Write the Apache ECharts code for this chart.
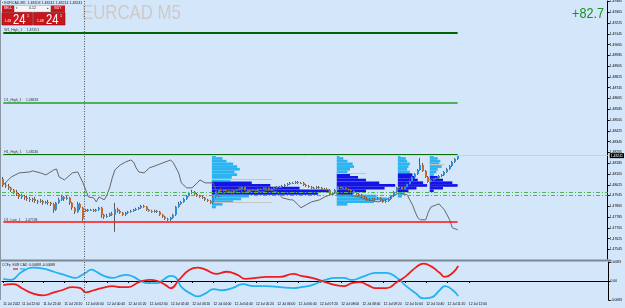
<!DOCTYPE html>
<html><head><meta charset="utf-8">
<script src="https://cdn.jsdelivr.net/npm/echarts@6/dist/echarts.min.js"></script>
<style>html,body{margin:0;padding:0;background:#d4e6fa;overflow:hidden}#c{width:625px;height:308px}</style>
</head><body><div id="c"></div>
<script>
// ---------- DATA ----------
const slotCount = 228;            // bar slots on the time axis (incl. right shift)
const separatorSlot = 31;         // first bar of 12 Jul
const timeLabels = ["11 Jul 2022","11 Jul 22:00","11 Jul 22:40","11 Jul 23:20","12 Jul 00:00","12 Jul 00:40","12 Jul 01:20","12 Jul 02:00","12 Jul 02:40","12 Jul 03:20","12 Jul 04:00","12 Jul 04:40","12 Jul 05:20","12 Jul 06:00","12 Jul 06:40","12 Jul 07:20","12 Jul 08:00","12 Jul 08:40","12 Jul 09:20","12 Jul 10:00","12 Jul 10:40","12 Jul 11:20","12 Jul 12:00"];
const labelSlots = [0,7,15,23,31,39,47,55,63,71,79,87,95,103,111,119,127,135,143,151,159,167,175];
const priceTicks = [1.47545,1.47625,1.47705,1.47785,1.47865,1.47945,1.48025,1.48105,1.48185,1.48265,1.48345,1.48425,1.48505,1.48585,1.48665,1.48745,1.48825,1.48905,1.48985,1.49065,1.49145,1.49225,1.49305,1.49385];
const indTicks = [0.0083,0,-0.0083];

const opens = [1.48068,1.48024,1.48016,1.48002,1.47987,1.47972,1.47957,1.47935,1.47942,1.47928,
1.47920,1.47913,1.47920,1.47905,1.47898,1.47905,1.47891,1.47898,1.47891,1.47883,
1.47839,1.47891,1.47913,1.47935,1.47920,1.47928,1.47891,1.47854,1.47824,1.47883,
1.47854,1.47839,1.47831,1.47839,1.47839,1.47831,1.47839,1.47854,1.47802,1.47787,
1.47794,1.47809,1.47802,1.47846,1.47831,1.47817,1.47802,1.47817,1.47824,1.47831,
1.47839,1.47846,1.47854,1.47868,1.47861,1.47839,1.47831,1.47824,1.47831,1.47824,
1.47802,1.47787,1.47772,1.47765,1.47780,1.47802,1.47861,1.47883,1.47898,1.47920,
1.47942,1.47965,1.47972,1.47957,1.47942,1.47935,1.47928,1.47913,1.47905,1.47891,
1.47935,1.47965,1.47987,1.47979,1.47987,1.47979,1.47972,1.47965,1.47979,1.47987,
1.47994,1.48009,1.47987,1.47972,1.47987,1.47987,1.47979,1.47994,1.47994,1.48002,
1.48002,1.47987,1.47994,1.48002,1.48009,1.48009,1.48016,1.48024,1.48031,1.48039,
1.48039,1.48046,1.48039,1.48039,1.48024,1.48016,1.48009,1.48002,1.48002,1.48009,
1.48002,1.47994,1.47994,1.47987,1.47950,1.47965,1.47987,1.48009,1.48002,1.48002,
1.47994,1.47987,1.47979,1.47965,1.47957,1.47950,1.47935,1.47928,1.47913,1.47920,
1.47913,1.47920,1.47928,1.47913,1.47898,1.47905,1.47920,1.47942,1.47972,1.48002,
1.48009,1.47994,1.48009,1.48031,1.48053,1.48083,1.48105,1.48135,1.48172,1.48128,
1.48083,1.48046,1.48061,1.48068,1.48076,1.48090,1.48098,1.48120,1.48142,1.48164,
1.48194,1.48216];
const closes = [1.48024,1.48016,1.48002,1.47987,1.47972,1.47957,1.47935,1.47942,1.47928,1.47920,
1.47913,1.47920,1.47905,1.47898,1.47905,1.47891,1.47898,1.47891,1.47883,1.47839,
1.47891,1.47913,1.47935,1.47920,1.47928,1.47891,1.47854,1.47824,1.47883,1.47854,
1.47772,1.47831,1.47839,1.47839,1.47831,1.47839,1.47854,1.47802,1.47787,1.47794,
1.47809,1.47802,1.47846,1.47831,1.47817,1.47802,1.47817,1.47824,1.47831,1.47839,
1.47846,1.47854,1.47868,1.47861,1.47839,1.47831,1.47824,1.47831,1.47824,1.47802,
1.47787,1.47772,1.47765,1.47780,1.47802,1.47861,1.47883,1.47898,1.47920,1.47942,
1.47965,1.47972,1.47957,1.47942,1.47935,1.47928,1.47913,1.47905,1.47891,1.47935,
1.47965,1.47987,1.47979,1.47987,1.47979,1.47972,1.47965,1.47979,1.47987,1.47994,
1.48009,1.47987,1.47972,1.47987,1.47987,1.47979,1.47994,1.47994,1.48002,1.48002,
1.47987,1.47994,1.48002,1.48009,1.48009,1.48016,1.48024,1.48031,1.48039,1.48039,
1.48046,1.48039,1.48039,1.48024,1.48016,1.48009,1.48002,1.48002,1.48009,1.48002,
1.47994,1.47994,1.47987,1.47950,1.47965,1.47987,1.48009,1.48002,1.48002,1.47994,
1.47987,1.47979,1.47965,1.47957,1.47950,1.47935,1.47928,1.47913,1.47920,1.47913,
1.47920,1.47928,1.47913,1.47898,1.47905,1.47920,1.47942,1.47972,1.48002,1.48009,
1.47994,1.48009,1.48031,1.48053,1.48083,1.48105,1.48135,1.48172,1.48128,1.48083,
1.48046,1.48061,1.48068,1.48076,1.48090,1.48098,1.48120,1.48142,1.48164,1.48194,
1.48216,1.48241];
const highs = [1.48083,1.48039,1.48031,1.48009,1.47994,1.47987,1.47965,1.47957,1.47950,1.47942,
1.47935,1.47928,1.47935,1.47913,1.47920,1.47913,1.47905,1.47913,1.47898,1.47891,
1.47898,1.47928,1.47950,1.47942,1.47942,1.47935,1.47898,1.47861,1.47898,1.47891,
1.47861,1.47846,1.47846,1.47846,1.47846,1.47846,1.47861,1.47861,1.47809,1.47809,
1.47817,1.47824,1.47891,1.47854,1.47839,1.47824,1.47824,1.47831,1.47839,1.47846,
1.47854,1.47861,1.47876,1.47876,1.47868,1.47846,1.47839,1.47839,1.47839,1.47831,
1.47809,1.47794,1.47780,1.47787,1.47809,1.47868,1.47898,1.47905,1.47928,1.47950,
1.47972,1.47987,1.47979,1.47965,1.47950,1.47942,1.47935,1.47920,1.47913,1.47942,
1.47979,1.47994,1.48002,1.47994,1.47994,1.47987,1.47979,1.47987,1.47994,1.48002,
1.48016,1.48016,1.47994,1.47994,1.47994,1.47994,1.48002,1.48002,1.48009,1.48009,
1.48009,1.48002,1.48009,1.48016,1.48016,1.48024,1.48031,1.48039,1.48046,1.48046,
1.48053,1.48053,1.48046,1.48046,1.48031,1.48024,1.48016,1.48009,1.48016,1.48016,
1.48009,1.48002,1.48002,1.47994,1.47972,1.47994,1.48016,1.48016,1.48009,1.48009,
1.48002,1.47994,1.47987,1.47972,1.47965,1.47957,1.47942,1.47935,1.47928,1.47928,
1.47928,1.47935,1.47935,1.47920,1.47913,1.47928,1.47950,1.47979,1.48009,1.48016,
1.48016,1.48016,1.48039,1.48061,1.48090,1.48113,1.48142,1.48224,1.48187,1.48135,
1.48090,1.48068,1.48076,1.48083,1.48098,1.48105,1.48128,1.48150,1.48172,1.48202,
1.48224,1.48246];
const lows = [1.48009,1.48002,1.47987,1.47972,1.47957,1.47942,1.47920,1.47920,1.47913,1.47905,
1.47898,1.47898,1.47891,1.47883,1.47891,1.47876,1.47883,1.47876,1.47868,1.47817,
1.47831,1.47883,1.47905,1.47905,1.47913,1.47876,1.47839,1.47809,1.47817,1.47839,
1.47757,1.47824,1.47824,1.47831,1.47824,1.47824,1.47831,1.47780,1.47772,1.47780,
1.47787,1.47794,1.47676,1.47817,1.47809,1.47794,1.47794,1.47809,1.47817,1.47824,
1.47831,1.47839,1.47846,1.47854,1.47831,1.47824,1.47817,1.47817,1.47817,1.47794,
1.47780,1.47765,1.47757,1.47757,1.47772,1.47794,1.47854,1.47876,1.47891,1.47913,
1.47935,1.47957,1.47950,1.47935,1.47928,1.47920,1.47905,1.47898,1.47883,1.47883,
1.47928,1.47957,1.47972,1.47972,1.47972,1.47965,1.47957,1.47957,1.47972,1.47979,
1.47987,1.47979,1.47965,1.47965,1.47979,1.47972,1.47972,1.47987,1.47987,1.47994,
1.47979,1.47979,1.47987,1.47994,1.48002,1.48002,1.48009,1.48016,1.48024,1.48031,
1.48031,1.48031,1.48031,1.48016,1.48009,1.48002,1.47994,1.47994,1.47994,1.47994,
1.47987,1.47987,1.47979,1.47942,1.47942,1.47957,1.47979,1.47994,1.47994,1.47987,
1.47979,1.47972,1.47957,1.47950,1.47942,1.47928,1.47920,1.47905,1.47905,1.47905,
1.47905,1.47913,1.47905,1.47891,1.47891,1.47898,1.47913,1.47935,1.47965,1.47994,
1.47987,1.47987,1.48002,1.48024,1.48046,1.48076,1.48098,1.48128,1.48120,1.48076,
1.48039,1.48039,1.48053,1.48061,1.48068,1.48083,1.48090,1.48113,1.48135,1.48157,
1.48187,1.48209];

// grey overlay line on the price chart: [bar, price]
const grayLine = [[0,1.48024],[3,1.48083],[6,1.48113],[10,1.48120],[11,1.48128],[14,1.48113],[16,1.48098],[19,1.48135],[20,1.48142],[21,1.48083],[23,1.48061],[26,1.48113],[28,1.48120],[30,1.48039],[31,1.47987],[32,1.47935],[34,1.47928],[35,1.47898],[36,1.47935],[38,1.47913],[39,1.47950],[40,1.48002],[41,1.48076],[42,1.48135],[44,1.48172],[46,1.48194],[48,1.48209],[49,1.48194],[50,1.48150],[51,1.48120],[53,1.48113],[55,1.48150],[58,1.48172],[60,1.48187],[63,1.48209],[64,1.48187],[66,1.48113],[67,1.48039],[69,1.48002],[71,1.48002],[73,1.48039],[74,1.48061],[76,1.48039],[79,1.48039],[81,1.47935],[84,1.47972],[88,1.47987],[89,1.48009],[90,1.47965],[94,1.47987],[97,1.47972],[100,1.47987],[103,1.47972],[105,1.47928],[108,1.47913],[109,1.47913],[111,1.47876],[112,1.47854],[114,1.47876],[116,1.47898],[119,1.47913],[121,1.47935],[123,1.47950],[125,1.47965],[127,1.47950],[130,1.47950],[134,1.47935],[137,1.47913],[141,1.47898],[144,1.47913],[146,1.47935],[149,1.47965],[152,1.47950],[154,1.47876],[155,1.47824],[156,1.47780],[157,1.47765],[159,1.47765],[160,1.47824],[161,1.47861],[163,1.47876],[164,1.47883],[165,1.47861],[166,1.47839],[168,1.47765],[169,1.47706],[171,1.47691]];

// horizontal levels
const levelNames = ["W1_High_1","D1_High_1","H1_High_1","D1_Low_1"];
const levelValues = [1.49151,1.48633,1.48246,1.47748];
const midLevels = [1.47969,1.47947];
const bidPrice = 1.48241;

// volume profiles (shared price rows, lengths in bars)
const profileLevels = [1.48240,1.48220,1.48200,1.48180,1.48160,1.48140,1.48120,1.48100,1.48080,1.48060,1.48040,1.48020,1.48000,1.47980,1.47960,1.47940,1.47920,1.47900,1.47880,1.47860];
const profileStarts = [79,126,149,161];
const profile1 = [1.5,4,5.5,8,9.5,10.5,8.5,9.5,7.5,7,15,22,33,44,40,14,11,8,4,1.5];
const profile2 = [1,2.5,4,6,6.5,5,4,5,8,11,16,22,18,11,6,15,19,14,4,0];
const profile3 = [1,3,3.5,4.5,4,3.5,4.5,5.5,6.5,7.5,9.5,11,7,4,2.5,1.5,0,0,0,0];
const profile4 = [1.5,3,4,3.5,4.5,3,2.5,1.5,3,5,8.5,10.5,5,1.5,0,0,0,0,0,0];
const profileVA = [[10,14],[7,14],[7,13],[8,13]];
const vaLineStart = [79,79,126,161];
const vaLinePrice = [1.48068,1.47898,1.48113,1.48179];
const vaLineLen = [22.5,22.5,11,5.6];

// CCFp indicator: [bar, value]
const cadPoints = [[0,0.0009],[3,0.00045],[4,0.0009],[7,0.00404],[11,0.00584],[15,0.00539],[19,0.00404],[24,0.00225],[27,0.00135],[29,0.00225],[31,0.00359],[33,0.00494],[35,0.00404],[37,0.00269],[41,0.00135],[44,0.00225],[46,0.00269],[49,0.0018],[51,0.00045],[54,-0.0009],[58,-0.0009],[60,0.00045],[63,0.00225],[65,0.00135],[67,-0.00269],[71,-0.00584],[73,-0.00674],[76,-0.00539],[79,-0.00359],[82,-0.00404],[86,-0.00314],[90,-0.00135],[94,-0.00225],[99,-0.00225],[104,-0.00269],[109,-0.00314],[112,-0.00269],[116,-0.0018],[121,0.00045],[125,0.00135],[128,0.00135],[131,0.00045],[134,0.00135],[137,0.00269],[140,0.00359],[144,0.00359],[148,0.00135],[151,-0.0018],[155,-0.00539],[158,-0.00763],[161,-0.00718],[164,-0.00404],[166,-0.00225],[169,-0.00404],[171,-0.0066]];
const eurPoints = [[0,-0.0018],[3,-0.00135],[4,-0.00135],[7,-0.00314],[11,-0.00539],[15,-0.00629],[19,-0.00494],[22,-0.00404],[26,-0.00269],[29,-0.00314],[31,-0.00494],[34,-0.00404],[37,-0.00314],[41,-0.00225],[44,-0.00269],[47,-0.00269],[51,-0.00045],[55,0.00045],[58,0],[61,-0.0018],[63,-0.00314],[66,0.00045],[70,0.00494],[73,0.00584],[76,0.00494],[80,0.00314],[84,0.00404],[88,0.00269],[91,0.0009],[95,0.00135],[99,0.0018],[104,0.0018],[109,0.00314],[112,0.00225],[116,0.00135],[121,-0.00045],[125,-0.0018],[128,-0.00225],[131,-0.0009],[134,-0.00045],[137,-0.0018],[140,-0.00314],[144,-0.00314],[148,-0.00045],[151,0.0018],[155,0.00584],[158,0.00763],[161,0.00629],[164,0.00359],[166,0.0018],[169,0.00359],[171,0.0066]];

// ---------- BUILD ----------
const FONT = 'Liberation Sans, Arial, sans-serif';
const slots = Array.from({length: slotCount}, (_, i) => String(i));
const lastBar = closes.length - 1;
const candleData = closes.map((c, i) => [i, opens[i], c, lows[i], highs[i]]);
const profiles = [profile1, profile2, profile3, profile4];
const profileData = [];
profiles.forEach((p, k) => p.forEach((len, r) => {
  if (len > 0) profileData.push([profileStarts[k], profileLevels[r], len, (r >= profileVA[k][0] && r <= profileVA[k][1]) ? 1 : 0]);
}));
const rowStep = 0.0002;
const vaLineData = vaLineStart.map((s, k) => [s, vaLinePrice[k], vaLineLen[k]]);

const chart = echarts.init(document.getElementById('c'), null, {renderer: 'canvas'});
const levelColors = ['#006400', '#23a023', '#0b6e0b', '#ff1010'];
const levelWidths = [2, 1.5, 2, 1.5];

const sepRender = (params, api) => {
  const band = api.size([1, 0])[0];
  const x = Math.round(api.coord([api.value(0), api.value(1)])[0] - band / 2) + 0.5;
  const cs = params.coordSys;
  return {type: 'line', shape: {x1: x, y1: cs.y, x2: x, y2: cs.y + cs.height},
          style: {stroke: '#555', lineWidth: 1, lineDash: [1, 1.5]}};
};

const option = {
  backgroundColor: '#d4e6fa',
  animation: false,
  textStyle: {fontFamily: FONT},
  grid: [
    {left: 2, right: 15, top: 1, height: 258},
    {left: 2, right: 15, top: 262, height: 38}
  ],
  xAxis: [
    {type: 'category', gridIndex: 0, data: slots, boundaryGap: true,
     axisLine: {show: false}, axisTick: {show: false}, axisLabel: {show: false}, splitLine: {show: false}},
    {type: 'category', gridIndex: 1, data: slots, boundaryGap: true,
     axisLine: {show: true, lineStyle: {color: '#000', width: 1}},
     axisTick: {show: true, alignWithLabel: true, length: 2, interval: (i) => labelSlots.includes(i), lineStyle: {color: '#000'}},
     axisLabel: {show: true, interval: (i) => labelSlots.includes(i), formatter: (v, i) => timeLabels[labelSlots.indexOf(i)] || '',
       fontSize: 3.3, color: '#000', align: 'left', margin: 2.5, fontFamily: FONT},
     splitLine: {show: false}}
  ],
  yAxis: [
    {type: 'value', gridIndex: 0, position: 'right', min: 1.474741, max: 1.493884, scale: true,
     axisLine: {show: true, lineStyle: {color: '#000'}},
     axisTick: {show: true, customValues: priceTicks, length: 2, lineStyle: {color: '#000'}},
     axisLabel: {show: true, customValues: priceTicks, formatter: (v) => v.toFixed(5), fontSize: 3.4, color: '#000', margin: 2, fontFamily: FONT},
     splitLine: {show: false}},
    {type: 'value', gridIndex: 1, position: 'right', min: -0.0083, max: 0.0083,
     axisLine: {show: true, lineStyle: {color: '#000'}},
     axisTick: {show: true, customValues: indTicks, length: 2, lineStyle: {color: '#000'}},
     axisLabel: {show: true, customValues: indTicks, formatter: (v) => v === 0 ? '0.00' : v.toFixed(4), fontSize: 3.4, color: '#000', margin: 2, fontFamily: FONT},
     splitLine: {show: false}}
  ],
  series: [
    // volume profiles
    {type: 'custom', xAxisIndex: 0, yAxisIndex: 0, z: 1, silent: true,
     data: profileData,
     renderItem: (params, api) => {
       const s = api.value(0), p = api.value(1), len = api.value(2), va = api.value(3);
       const band = api.size([1, 0])[0];
       const rowH = api.size([0, rowStep])[1];
       const c = api.coord([s, p]);
       const x0 = c[0] - band / 2;
       return {type: 'rect', shape: {x: x0, y: c[1] - rowH / 2, width: len * band, height: rowH},
               style: {fill: va ? '#1414e6' : '#2bb4f0'}};
     }},
    // value-area grey lines
    {type: 'custom', xAxisIndex: 0, yAxisIndex: 0, z: 2, silent: true,
     data: vaLineData,
     renderItem: (params, api) => {
       const band = api.size([1, 0])[0];
       const c = api.coord([api.value(0), api.value(1)]);
       const x0 = c[0] - band / 2, y = Math.round(c[1]) + 0.5;
       return {type: 'line', shape: {x1: x0, y1: y, x2: x0 + api.value(2) * band, y2: y},
               style: {stroke: '#c4c4c4', lineWidth: 1}};
     }},
    // candles
    {type: 'custom', xAxisIndex: 0, yAxisIndex: 0, z: 3, silent: true,
     data: candleData,
     renderItem: (params, api) => {
       const i = api.value(0), o = api.value(1), c = api.value(2);
       const pO = api.coord([i, o]), pC = api.coord([i, c]);
       const pL = api.coord([i, api.value(3)]), pH = api.coord([i, api.value(4)]);
       const r = Math.round(pO[0]);
       const top = Math.min(pO[1], pC[1]), bot = Math.max(pO[1], pC[1]);
       const up = c >= o;
       return {type: 'group', children: [
         {type: 'line', shape: {x1: r - 0.5, y1: pH[1], x2: r - 0.5, y2: pL[1]}, style: {stroke: '#5a5a5a', lineWidth: 1}},
         {type: 'rect', shape: {x: r - 1, y: top, width: 2, height: Math.max(bot - top, 1)},
          style: {fill: up ? '#2f8ed6' : '#c8682c'}}
       ]};
     }},
    // grey overlay line + level markers
    {type: 'line', xAxisIndex: 0, yAxisIndex: 0, z: 4, silent: true,
     data: grayLine, symbol: 'none', smooth: false,
     lineStyle: {color: '#666', width: 1},
     markLine: {silent: true, symbol: ['none', 'none'], animation: false, precision: 5,
       data: [
         ...levelNames.map((n, k) => [
           {coord: [0, levelValues[k]], lineStyle: {color: levelColors[k], width: levelWidths[k], type: 'solid'},
            label: {show: true, position: 'insideStartTop', formatter: n + '     ' + levelValues[k].toFixed(5),
                    fontSize: 3.4, color: '#333', distance: 1, fontFamily: FONT}},
           {coord: [lastBar, levelValues[k]]}
         ]),
         ...midLevels.map(v => ({yAxis: v, lineStyle: {color: '#4cb84c', width: 1, type: [4, 2, 1, 2]}, label: {show: false}})),
         {yAxis: bidPrice, lineStyle: {color: '#bcd5f0', width: 1, type: 'solid'},
          label: {show: true, position: 'end', formatter: bidPrice.toFixed(5), backgroundColor: '#000', color: '#fff',
                  fontSize: 3.4, padding: [1, 1], distance: 2, fontFamily: FONT}}
       ]}},
    // period separators
    {type: 'custom', xAxisIndex: 0, yAxisIndex: 0, z: 5, silent: true, data: [[separatorSlot, 1.48]], renderItem: sepRender},
    {type: 'custom', xAxisIndex: 1, yAxisIndex: 1, z: 5, silent: true, data: [[separatorSlot, 0]], renderItem: sepRender},
    // CCFp lines
    {type: 'line', xAxisIndex: 1, yAxisIndex: 1, data: cadPoints, symbol: 'none', smooth: 0.5, z: 3,
     lineStyle: {color: '#21b2f2', width: 1.8}},
    {type: 'line', xAxisIndex: 1, yAxisIndex: 1, data: eurPoints, symbol: 'none', smooth: 0.5, z: 3,
     lineStyle: {color: '#f01c1c', width: 1.8}}
  ],
  graphic: [
    {type: 'rect', left: 0, top: 259.5, shape: {width: 611, height: 2}, style: {fill: '#7c8794'}, z: 10},
    {type: 'line', shape: {x1: 0.5, y1: 0, x2: 0.5, y2: 300}, style: {stroke: '#8a96a3', lineWidth: 1}, z: 10},
    // header line
    {type: 'text', x: 2, y: 1, style: {text: '\u25aa EURCAD,M5  1.48203 1.48241 1.48214 1.48241', fontSize: 3.6, fill: '#222', fontFamily: FONT}, z: 10},
    // one-click trading panel
    {type: 'rect', shape: {x: 2, y: 5.5, width: 12, height: 6.5}, style: {fill: '#c8161c'}, z: 10},
    {type: 'text', x: 8, y: 7, style: {text: 'SELL', fontSize: 3.4, fill: '#fff', align: 'center', fontFamily: FONT}, z: 11},
    {type: 'rect', shape: {x: 14.5, y: 5.5, width: 36, height: 6.5}, style: {fill: '#f4f4f4', stroke: '#9aa', lineWidth: 0.5}, z: 10},
    {type: 'text', x: 17, y: 7, style: {text: '\u25be', fontSize: 3.4, fill: '#333', align: 'center', fontFamily: FONT}, z: 11},
    {type: 'text', x: 32.5, y: 7, style: {text: '0.12', fontSize: 3.4, fill: '#222', align: 'center', fontFamily: FONT}, z: 11},
    {type: 'text', x: 48, y: 7, style: {text: '\u25b4', fontSize: 3.4, fill: '#333', align: 'center', fontFamily: FONT}, z: 11},
    {type: 'rect', shape: {x: 51, y: 5.5, width: 14, height: 6.5}, style: {fill: '#c8161c'}, z: 10},
    {type: 'text', x: 58, y: 7, style: {text: 'BUY', fontSize: 3.4, fill: '#fff', align: 'center', fontFamily: FONT}, z: 11},
    {type: 'rect', shape: {x: 2, y: 12.5, width: 30.5, height: 12.5}, style: {fill: '#c8161c', stroke: '#8e0d10', lineWidth: 0.6}, z: 10},
    {type: 'rect', shape: {x: 33.5, y: 12.5, width: 31.5, height: 12.5}, style: {fill: '#c8161c', stroke: '#8e0d10', lineWidth: 0.6}, z: 10},
    {type: 'text', x: 4.5, y: 19.5, style: {text: '1.48', fontSize: 3.4, fill: '#fff', fontFamily: FONT}, z: 11},
    {type: 'text', x: 13, y: 12.8, scaleX: 0.8, style: {text: '24', fontSize: 14, fill: '#fff', fontFamily: FONT}, z: 11},
    {type: 'text', x: 27, y: 13.5, style: {text: '1', fontSize: 3.6, fill: '#fff', fontFamily: FONT}, z: 11},
    {type: 'text', x: 37, y: 19.5, style: {text: '1.48', fontSize: 3.4, fill: '#fff', fontFamily: FONT}, z: 11},
    {type: 'text', x: 46, y: 12.8, scaleX: 0.8, style: {text: '24', fontSize: 14, fill: '#fff', fontFamily: FONT}, z: 11},
    {type: 'text', x: 60, y: 13.5, style: {text: '1', fontSize: 3.6, fill: '#fff', fontFamily: FONT}, z: 11},
    // watermark
    {type: 'text', x: 82, y: 3, scaleX: 0.8, style: {text: 'EURCAD M5', fontSize: 21, fill: '#cfc9c8', fontFamily: FONT}, z: 0},
    // profit
    {type: 'text', x: 604, y: 7, scaleX: 0.9, style: {text: '+82.7', fontSize: 14, fill: '#1a931a', align: 'right', fontFamily: FONT}, z: 10},
    // indicator header
    {type: 'text', x: 2, y: 263.5, style: {text: 'CCFp  EUR CAD  0.00688 -0.00688', fontSize: 3.3, fill: '#222', fontFamily: FONT}, z: 10},
    {type: 'line', shape: {x1: 13, y1: 269, x2: 18, y2: 269}, style: {stroke: '#f01c1c', lineWidth: 1.2}, z: 10},
    {type: 'line', shape: {x1: 20, y1: 269, x2: 25, y2: 269}, style: {stroke: '#21b2f2', lineWidth: 1.2}, z: 10}
  ]
};
chart.setOption(option);
</script></body></html>
